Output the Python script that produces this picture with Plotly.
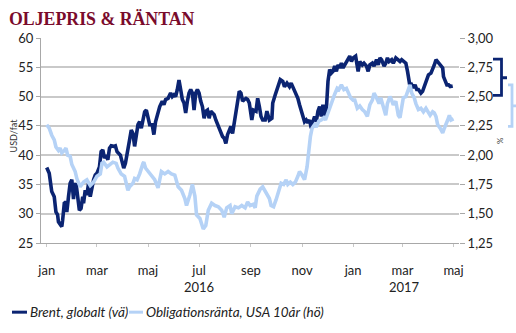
import pandas as pd
import plotly.graph_objects as go

# ---------------- data ----------------
start_date = "2016-01-01"

# Brent, USD/fat (left axis); x = days after start_date
brent_day = [0, 3, 6, 9, 11, 13, 14, 16, 18, 19, 21, 23, 24, 26, 28, 30, 32, 33, 35, 37,
             39, 41, 43, 44, 46, 48, 50, 52, 54, 56, 58, 60, 63, 65, 67, 69, 71, 73, 75, 77,
             80, 82, 84, 86, 88, 90, 92, 94, 96, 99, 101, 103, 105, 107, 109, 111, 113, 115, 117, 119,
             121, 123, 126, 128, 130, 133, 135, 138, 140, 142, 145, 148, 150, 152, 154, 156, 158, 160, 162, 164,
             166, 168, 170, 172, 174, 176, 178, 180, 182, 184, 186, 188, 190, 192, 194, 196, 198, 200, 202, 204,
             206, 208, 210, 212, 214, 216, 218, 220, 222, 224, 226, 228, 230, 232, 234, 236, 238, 240, 242, 245,
             247, 250, 252, 254, 256, 258, 261, 263, 266, 269, 270, 273, 276, 279, 282, 284, 287, 290, 292, 294,
             296, 298, 300, 302, 304, 306, 308, 310, 312, 314, 316, 318, 320, 322, 324, 326, 328, 330, 332, 334,
             336, 338, 340, 342, 344, 346, 348, 350, 352, 354, 356, 358, 360, 362, 364, 366, 369, 372, 374, 377,
             379, 382, 384, 386, 389, 391, 394, 396, 398, 400, 403, 405, 407, 409, 412, 414, 417, 419, 422, 424,
             426, 429, 431, 432, 434, 436, 438, 440, 442, 444, 447, 449, 451, 454, 456, 459, 461, 463, 465, 467,
             469, 471, 473, 474, 476, 478, 480, 482, 485]
brent_val = [37.9, 36.9, 33.8, 32.9, 30.3, 29.8, 28.6, 28.3, 27.8, 28.9, 31.8, 32.0, 30.3, 32.9, 35.2, 35.8, 32.5, 34.6, 35.2, 32.9,
             30.6, 30.9, 32.9, 31.8, 34.0, 33.2, 35.2, 32.9, 34.6, 35.8, 36.6, 36.9, 38.0, 40.6, 40.9, 39.5, 40.0, 39.2, 41.2, 41.6,
             41.5, 41.6, 40.6, 40.3, 40.0, 38.9, 37.8, 38.6, 40.6, 42.6, 44.3, 43.7, 41.5, 43.2, 45.2, 45.7, 44.6, 46.0, 47.4, 47.7,
             46.3, 45.2, 45.2, 43.5, 45.7, 47.7, 48.3, 49.2, 48.6, 49.5, 49.7, 50.6, 50.0, 50.3, 50.0, 51.2, 52.8, 51.2, 49.5, 48.9,
             47.2, 49.2, 50.6, 51.2, 50.6, 47.7, 50.6, 51.2, 50.6, 49.2, 48.3, 46.3, 47.5, 47.7, 46.3, 47.5, 47.2, 46.9, 46.0, 45.2,
             44.6, 44.0, 43.2, 42.9, 42.0, 43.5, 44.3, 44.9, 43.7, 45.7, 47.7, 49.5, 50.9, 50.6, 49.2, 49.5, 49.7, 49.5, 48.9, 46.0,
             47.7, 47.5, 49.7, 48.3, 46.6, 46.0, 46.0, 47.5, 46.0, 46.3, 48.9, 50.3, 51.5, 52.9, 52.6, 51.7, 52.3, 51.7, 52.3, 51.7,
             50.9, 50.3, 49.7, 48.6, 47.7, 46.3, 45.7, 46.0, 45.5, 46.0, 44.6, 45.7, 46.6, 45.7, 47.5, 48.3, 46.6, 48.6, 46.3, 47.7,
             52.6, 54.6, 54.0, 54.3, 55.2, 54.3, 55.4, 54.9, 55.7, 54.9, 55.4, 55.7, 56.3, 56.9, 56.0, 56.6, 56.9, 54.3, 56.0, 55.4,
             55.7, 55.2, 54.3, 55.4, 55.7, 55.2, 56.3, 55.4, 56.6, 56.3, 55.2, 55.7, 56.6, 56.0, 56.3, 55.7, 56.6, 56.3, 56.0, 56.3,
             56.0, 55.7, 54.3, 53.2, 51.7, 52.0, 51.5, 52.0, 51.2, 51.2, 50.6, 50.9, 51.7, 52.9, 53.7, 54.0, 54.6, 55.4, 56.3, 56.0,
             55.7, 55.4, 54.9, 53.4, 52.6, 52.0, 52.0, 51.7, 51.8]

# US 10-year bond yield, % (right axis)
bond_day = [0, 3, 6, 9, 11, 14, 16, 18, 21, 23, 25, 28, 30, 32, 34, 36, 38, 40, 44, 48,
            52, 56, 60, 64, 66, 68, 72, 76, 79, 83, 85, 89, 93, 97, 99, 103, 105, 108, 111, 115,
            116, 118, 121, 125, 129, 133, 137, 141, 145, 149, 153, 157, 161, 165, 167, 171, 174, 177, 179, 183,
            187, 190, 193, 197, 201, 205, 209, 212, 215, 219, 221, 225, 229, 233, 237, 240, 243, 247, 249, 251,
            255, 258, 261, 263, 266, 268, 271, 274, 278, 280, 283, 286, 288, 291, 294, 297, 300, 302, 305, 308,
            311, 313, 315, 317, 320, 322, 325, 328, 331, 333, 336, 338, 341, 344, 347, 349, 352, 355, 358, 361,
            363, 366, 368, 371, 374, 377, 380, 383, 386, 389, 391, 394, 397, 399, 402, 405, 407, 410, 412, 414,
            417, 420, 422, 424, 426, 429, 432, 434, 436, 439, 441, 444, 447, 450, 453, 455, 458, 461, 463, 465,
            467, 470, 473, 475, 477, 479, 481, 483, 486]
bond_val = [2.26, 2.23, 2.17, 2.13, 2.07, 2.04, 2.06, 2.02, 2.04, 2.06, 2.00, 1.99, 1.92, 1.89, 1.86, 1.80, 1.76, 1.73, 1.77, 1.79,
            1.74, 1.77, 1.82, 1.84, 1.93, 1.94, 1.90, 1.92, 1.94, 1.93, 1.89, 1.84, 1.82, 1.70, 1.73, 1.76, 1.80, 1.79, 1.84, 1.93,
            1.94, 1.89, 1.86, 1.83, 1.79, 1.72, 1.86, 1.84, 1.86, 1.84, 1.83, 1.73, 1.70, 1.63, 1.57, 1.66, 1.75, 1.65, 1.49, 1.46,
            1.37, 1.40, 1.53, 1.59, 1.57, 1.56, 1.53, 1.47, 1.55, 1.57, 1.50, 1.56, 1.55, 1.57, 1.55, 1.60, 1.57, 1.58, 1.55, 1.65,
            1.71, 1.73, 1.69, 1.67, 1.63, 1.57, 1.56, 1.62, 1.73, 1.76, 1.75, 1.79, 1.75, 1.77, 1.75, 1.77, 1.82, 1.86, 1.83, 1.79,
            1.90, 2.04, 2.16, 2.23, 2.26, 2.24, 2.29, 2.30, 2.32, 2.30, 2.36, 2.42, 2.47, 2.52, 2.57, 2.56, 2.60, 2.56, 2.57, 2.53,
            2.49, 2.47, 2.47, 2.40, 2.42, 2.39, 2.37, 2.33, 2.43, 2.47, 2.53, 2.49, 2.44, 2.49, 2.42, 2.34, 2.44, 2.50, 2.47, 2.43,
            2.46, 2.34, 2.32, 2.42, 2.49, 2.50, 2.57, 2.60, 2.53, 2.49, 2.44, 2.39, 2.40, 2.37, 2.40, 2.37, 2.34, 2.37, 2.36, 2.33,
            2.26, 2.23, 2.19, 2.23, 2.26, 2.30, 2.34, 2.30, 2.31]

tick_dates = ["2016-01-01", "2016-03-01", "2016-05-01", "2016-07-01", "2016-09-01", "2016-11-01",
              "2017-01-01", "2017-03-01", "2017-05-01"]
tick_text = ["jan", "mar", "maj", "jul", "sep", "nov", "jan", "mar", "maj"]
year_labels = ["2016", "2017"]
year_dates = ["2016-07-01", "2017-03-03"]

title_text = "OLJEPRIS & RÄNTAN"
name_brent = "Brent, globalt (vä)"
name_bond = "Obligationsränta, USA 10år (hö)"

# ---------------- styling ----------------
DARK = "#0B2472"
LIGHT = "#B5D2F6"
GRID = "#C9C9C9"
FONT = "Lato"

W, H = 516, 333
L, R, T, B = 41, 459, 38.4, 242.6


def px(x):
    return (x - L) / (R - L)


def py(y):
    return (B - y) / (B - T)


t0 = pd.Timestamp(start_date)
brent_x = t0 + pd.to_timedelta(brent_day, unit="D")
bond_x = t0 + pd.to_timedelta(bond_day, unit="D")

fig = go.Figure()
fig.add_trace(go.Scatter(x=bond_x, y=bond_val, yaxis="y2", mode="lines",
                         line=dict(color=LIGHT, width=3.6), name=name_bond, showlegend=False))
fig.add_trace(go.Scatter(x=brent_x, y=brent_val, yaxis="y", mode="lines",
                         line=dict(color=DARK, width=3.6), name=name_brent, showlegend=False))

fig.update_layout(
    width=W, height=H,
    margin=dict(l=L, r=W - R, t=T, b=H - B, pad=0),
    paper_bgcolor="white", plot_bgcolor="white",
    separators=", ",
    font=dict(family=FONT, size=13, color="#222222"),
    xaxis=dict(
        type="date",
        range=["2015-12-25 04:00", "2017-05-07 12:00"],
        tickvals=tick_dates, ticktext=tick_text,
        showgrid=False, zeroline=False,
        showline=True, linecolor="#A8A8A8", linewidth=1,
        ticks="outside", ticklen=3, tickcolor="#C8C8C8",
        ticklabelstandoff=12,
        tickfont=dict(family=FONT, size=13, color="#222222"),
    ),
    yaxis=dict(
        range=[25, 60], dtick=5, tick0=25,
        showgrid=True, gridcolor=GRID, gridwidth=1.5,
        zeroline=False, showline=True, linecolor="#A8A8A8", linewidth=1,
        ticks="outside", ticklen=4, tickcolor="#A8A8A8",
        tickfont=dict(family=FONT, size=13, color="#222222"),
    ),
    yaxis2=dict(
        range=[1.25, 3.0], dtick=0.25, tick0=1.25, tickformat=".2f",
        overlaying="y", side="right",
        showgrid=False, zeroline=False, showline=False,
        ticks="outside", ticklen=5, tickcolor="#A8A8A8",
        tickfont=dict(family=FONT, size=13, color="#222222"),
    ),
)

ann = []
# title
ann.append(dict(text=f"<b>{title_text}</b>", xref="paper", yref="paper", x=px(7), y=py(19),
                xanchor="left", yanchor="middle", showarrow=False,
                font=dict(family="Liberation Serif", size=17.8, color="#7A0B2C")))
# axis titles
ann.append(dict(text="USD/fat", xref="paper", yref="paper", x=px(13.5), y=py(136),
                xanchor="center", yanchor="middle", showarrow=False, textangle=-90,
                font=dict(family=FONT, size=9, color="#333333")))
ann.append(dict(text="%", xref="paper", yref="paper", x=px(500), y=py(140),
                xanchor="center", yanchor="middle", showarrow=False, textangle=-90,
                font=dict(family=FONT, size=8, color="#333333")))
# year labels
for lab, d in zip(year_labels, year_dates):
    ann.append(dict(text=lab, xref="x", yref="paper", x=d, y=py(286),
                    xanchor="center", yanchor="middle", showarrow=False,
                    font=dict(family=FONT, size=13, color="#222222")))
# legend texts
ann.append(dict(text=f"<i>{name_brent}</i>", xref="paper", yref="paper", x=px(27.5), y=py(311.5),
                xanchor="left", yanchor="middle", showarrow=False,
                font=dict(family=FONT, size=13.5, color="#222222")))
ann.append(dict(text=f"<i>{name_bond}</i>", xref="paper", yref="paper", x=px(143.5), y=py(311.5),
                xanchor="left", yanchor="middle", showarrow=False,
                font=dict(family=FONT, size=13.5, color="#222222")))
fig.update_layout(annotations=ann)

shapes = []
# legend line samples
shapes.append(dict(type="line", xref="paper", yref="paper", x0=px(12), x1=px(27), y0=py(311.5), y1=py(311.5),
                   line=dict(color=DARK, width=3)))
shapes.append(dict(type="line", xref="paper", yref="paper", x0=px(129), x1=px(143), y0=py(311.5), y1=py(311.5),
                   line=dict(color=LIGHT, width=3)))


def brace(x0, x1, x2, yt, ym, yb):
    pts = [(x0, yt), (x1, yt), (x1, yb), (x0, yb)]
    d = "M " + " L ".join(f"{px(a):.5f},{py(b):.5f}" for a, b in pts)
    d += f" M {px(x1):.5f},{py(ym):.5f} L {px(x2):.5f},{py(ym):.5f}"
    return d


shapes.append(dict(type="path", xref="paper", yref="paper", path=brace(493, 501.5, 507, 59.5, 78, 95.5),
                   line=dict(color=DARK, width=2.8)))
shapes.append(dict(type="path", xref="paper", yref="paper", path=brace(508, 512, 518, 85, 106, 126.5),
                   line=dict(color=LIGHT, width=2.8)))
fig.update_layout(shapes=shapes)

fig.write_html("out.html")
